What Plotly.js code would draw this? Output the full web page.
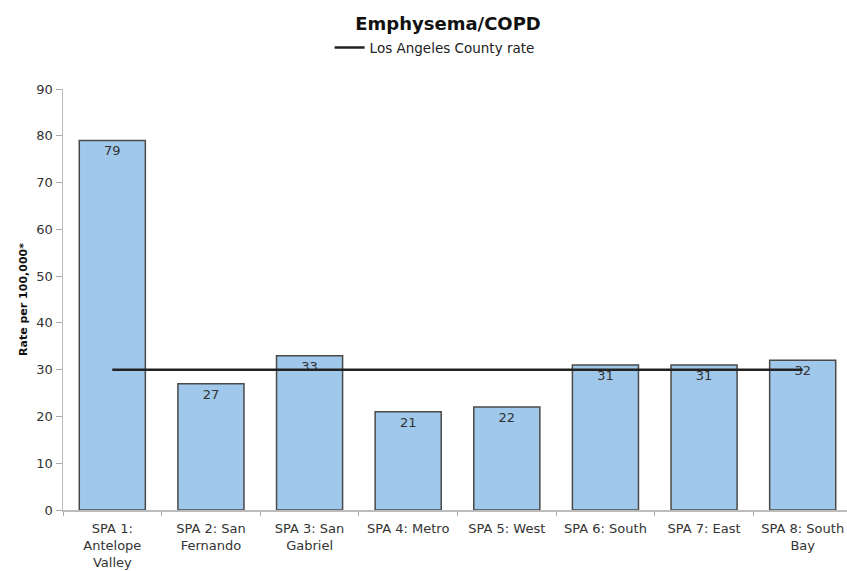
<!DOCTYPE html>
<html><head><meta charset="utf-8">
<script src="https://cdn.plot.ly/plotly-3.0.1.min.js"></script>
<style>html,body{margin:0;padding:0;overflow:hidden;background:#fff}</style>
</head><body><div id="chart"></div>
<script>
const categories = ["SPA 1:<br>Antelope<br>Valley","SPA 2: San<br>Fernando","SPA 3: San<br>Gabriel","SPA 4: Metro","SPA 5: West","SPA 6: South","SPA 7: East","SPA 8: South<br>Bay"];
const rates = [79, 27, 33, 21, 22, 31, 31, 32];
const countyRate = [30, 30, 30, 30, 30, 30, 30, 30];
const yTicks = [0,10,20,30,40,50,60,70,80,90];

const font = "DejaVu Sans, Verdana, sans-serif";
const traces = [
  {type:"bar", x:categories, y:rates, text:rates.map(String), textposition:"inside",
   insidetextanchor:"end", textfont:{family:font,size:13,color:"#333"},
   marker:{color:"#9FC8EA", line:{color:"#4a4a4a", width:1.5}}, showlegend:false, hoverinfo:"skip"},
  {type:"scatter", mode:"lines", x:categories, y:countyRate, name:"Los Angeles County rate",
   line:{color:"#222", width:2.5}, hoverinfo:"skip"}
];
const layout = {
  width:860, height:571,
  margin:{l:63, r:8, t:89, b:61},
  paper_bgcolor:"#fff", plot_bgcolor:"#fff",
  font:{family:font, color:"#333"},
  title:{text:"<b>Emphysema/COPD</b>", x:0.521, xanchor:"center", y:0.958, yanchor:"middle", font:{family:font,size:18,color:"#111"}},
  showlegend:true,
  legend:{orientation:"h", x:0.471, xanchor:"center", y:1.098, yanchor:"middle", font:{family:font,size:13.5,color:"#222"}, bgcolor:"rgba(0,0,0,0)"},
  bargap:0.33,
  xaxis:{showline:true, linecolor:"#bbb", linewidth:1.5, ticks:"outside", tickson:"boundaries", ticklen:4, tickcolor:"#aaa",
         ticklabelstandoff:6,
         tickfont:{family:font,size:13,color:"#333"}, showgrid:false, fixedrange:true},
  yaxis:{range:[0,90], tickvals:yTicks, showline:true, linecolor:"#bbb", linewidth:1.5, ticks:"outside", ticklen:6, tickcolor:"#aaa",
         tickfont:{family:font,size:13,color:"#333"}, showgrid:false, zeroline:false,
         title:{text:"<b>Rate per 100,000*</b>", font:{family:font,size:11,color:"#111"}, standoff:6}}
};
Plotly.newPlot("chart", traces, layout, {displayModeBar:false, staticPlot:true});
</script></body></html>
